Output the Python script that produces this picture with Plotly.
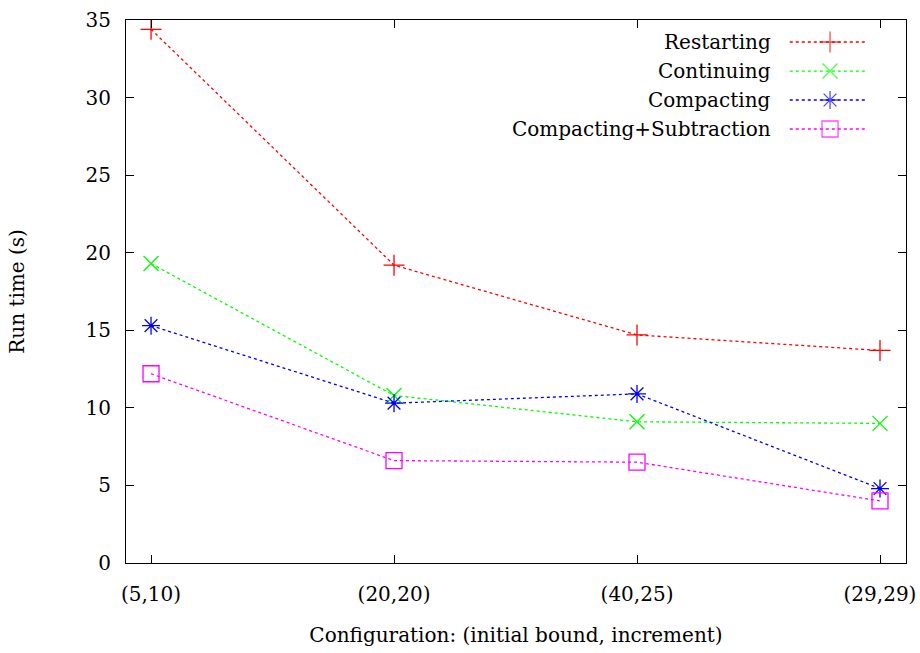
import plotly.graph_objects as go

categories = ["(5,10)", "(20,20)", "(40,25)", "(29,29)"]
restarting = [34.4, 19.2, 14.7, 13.7]
continuing = [19.3, 10.8, 9.1, 9.0]
compacting = [15.3, 10.3, 10.9, 4.8]
compacting_sub = [12.2, 6.6, 6.5, 4.0]

series_names = ["Restarting", "Continuing", "Compacting", "Compacting+Subtraction"]
series_values = [restarting, continuing, compacting, compacting_sub]
colors = ["#ff0000", "#00ff00", "#0000ff", "#ff00ff"]
symbols = ["cross-thin", "x-thin", "asterisk-open", "square-open"]
sizes = [15, 15, 15, 16]

FONT = "DejaVu Serif"
FS = 20
xi = list(range(len(categories)))

fig = go.Figure()
for name, vals, c, s, sz in zip(series_names, series_values, colors, symbols, sizes):
    fig.add_trace(go.Scatter(
        x=xi, y=vals, name=name, mode="lines+markers",
        line=dict(color=c, width=1.3, dash="dot"),
        marker=dict(symbol=s, size=sz, color=c, line=dict(color=c, width=1.3)),
        showlegend=False,
    ))

# custom legend (text on left, sample on right, gnuplot style)
row_y = [0.9595, 0.906, 0.8527, 0.7993]
for name, c, s, sz, ry in zip(series_names, colors, symbols, sizes, row_y):
    fig.add_trace(go.Scatter(
        x=[0.851, 0.9026, 0.951], y=[ry, ry, ry], xaxis="x2", yaxis="y2",
        mode="lines+markers", showlegend=False, hoverinfo="skip",
        line=dict(color=c, width=1.3, dash="dot"),
        marker=dict(symbol=s, size=[0, sz, 0], color=c, line=dict(color=c, width=1.3)),
    ))
    fig.add_annotation(x=0.8295, y=ry, xref="x2", yref="y2", text=name, showarrow=False,
                       xanchor="right", yanchor="middle", font=dict(family=FONT, size=FS, color="black"))

fig.update_layout(
    width=920, height=653,
    margin=dict(l=126, r=14, t=20, b=90),
    paper_bgcolor="white", plot_bgcolor="white",
    font=dict(family=FONT, size=FS, color="black"),
    xaxis=dict(
        range=[-0.103, 3.107], tickmode="array", tickvals=xi, ticktext=categories,
        showline=True, linecolor="black", linewidth=1.2, mirror="ticks",
        ticks="inside", ticklen=8, tickcolor="black", showgrid=False, zeroline=False,
        ticklabelstandoff=13, tickfont=dict(family=FONT, size=FS), automargin=False,
        title=dict(text="Configuration: (initial bound, increment)", standoff=22, font=dict(family=FONT, size=FS)),
    ),
    yaxis=dict(
        range=[0, 35], tickmode="array", tickvals=[0, 5, 10, 15, 20, 25, 30, 35],
        showline=True, linecolor="black", linewidth=1.2, mirror="ticks",
        ticks="inside", ticklen=8, tickcolor="black", showgrid=False, zeroline=False,
        ticklabelstandoff=10, tickfont=dict(family=FONT, size=FS), automargin=False,
        title=dict(text="Run time (s)", standoff=55, font=dict(family=FONT, size=FS)),
    ),
    xaxis2=dict(range=[0, 1], overlaying="x", visible=False, fixedrange=True),
    yaxis2=dict(range=[0, 1], overlaying="y", visible=False, fixedrange=True, anchor="x2"),
)

fig.write_html("out.html")
